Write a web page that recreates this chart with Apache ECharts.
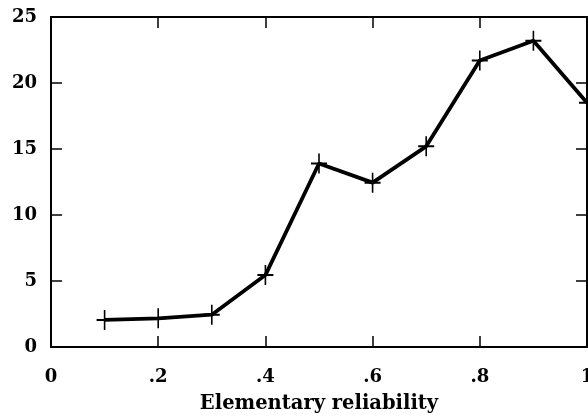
<!DOCTYPE html>
<html>
<head>
<meta charset="utf-8">
<script src="https://cdn.jsdelivr.net/npm/echarts@6/dist/echarts.min.js"></script>
<style>
  html, body { margin: 0; padding: 0; background: #fff; }
  #chart { width: 588px; height: 416px; }
</style>
</head>
<body>
<div id="chart"></div>
<script>
// reliability values along the x axis
var reliability = [0.1, 0.2, 0.3, 0.4, 0.5, 0.6, 0.7, 0.8, 0.9, 1.0];
// y values
var values = [2.05, 2.17, 2.45, 5.45, 13.9, 12.45, 15.2, 21.7, 23.2, 18.5];
var xTicks = ['0', '.2', '.4', '.6', '.8', '1'];
var yTicks = ['0', '5', '10', '15', '20', '25'];

var fontFam = '"DejaVu Serif", "Liberation Serif", serif';
// a plus sign as a filled path
var plusPath = 'path://M9,0 h2 v9 h9 v2 h-9 v9 h-2 v-9 h-9 v-2 h9 z';

var points = reliability.map(function (x, i) { return [x, values[i]]; });

var lbl = { color: '#000', fontFamily: fontFam, fontWeight: 'bold', fontSize: 19.5 };
var axLine = { show: true, onZero: false, lineStyle: { color: '#000', width: 2 } };
var axTick = { show: true, inside: true, length: 11, lineStyle: { color: '#000', width: 1.5 } };

var option = {
    backgroundColor: '#fff',
    animation: false,
    grid: { left: 51, top: 17, right: 1, bottom: 69, show: false, outerBoundsMode: 'none', containLabel: false },
    xAxis: [
        {
            type: 'value', gridIndex: 0, min: 0, max: 1, interval: 0.2,
            position: 'bottom',
            name: 'Elementary reliability',
            nameLocation: 'middle',
            nameGap: 47,
            nameTextStyle: lbl,
            axisLine: axLine,
            axisTick: axTick,
            axisLabel: {
                color: '#000', fontFamily: fontFam, fontWeight: 'bold', fontSize: 18, margin: 21,
                formatter: function (v) { return xTicks[Math.round(v / 0.2)]; }
            },
            splitLine: { show: false }
        },
        {
            type: 'value', gridIndex: 0, min: 0, max: 1, interval: 0.2,
            position: 'top',
            axisLine: axLine,
            axisTick: axTick,
            axisLabel: { show: false },
            splitLine: { show: false }
        }
    ],
    yAxis: [
        {
            type: 'value', gridIndex: 0, min: 0, max: 25, interval: 5,
            position: 'left',
            axisLine: axLine,
            axisTick: axTick,
            axisLabel: {
                color: '#000', fontFamily: fontFam, fontWeight: 'bold', fontSize: 18, margin: 14,
                formatter: function (v) { return yTicks[Math.round(v / 5)]; }
            },
            splitLine: { show: false }
        },
        {
            type: 'value', gridIndex: 0, min: 0, max: 25, interval: 5,
            position: 'right',
            axisLine: axLine,
            axisTick: axTick,
            axisLabel: { show: false },
            splitLine: { show: false }
        }
    ],
    series: [
        {
            type: 'line',
            data: points,
            symbol: plusPath,
            symbolSize: [16, 20],
            showAllSymbol: true,
            clip: false,
            lineStyle: { color: '#000', width: 3.8 },
            itemStyle: { color: '#000', borderWidth: 0 }
        }
    ]
};

var chart = echarts.init(document.getElementById('chart'));
chart.setOption(option);
</script>
</body>
</html>
